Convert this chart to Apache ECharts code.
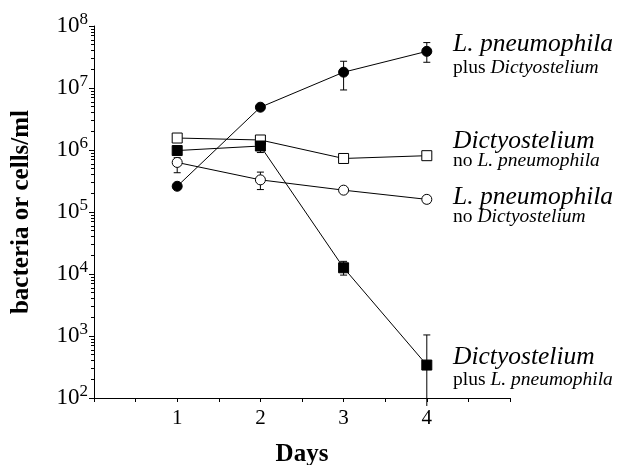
<!DOCTYPE html>
<html>
<head>
<meta charset="utf-8">
<script src="https://cdn.jsdelivr.net/npm/echarts@6/dist/echarts.min.js"></script>
<style>
  html, body { margin: 0; padding: 0; background: #fff; }
  #chart { width: 617px; height: 465px; }
</style>
</head>
<body>
<div id="chart"></div>
<script>
// days after infection
const days = [1, 2, 3, 4]
const xTickLabels = ['1', '2', '3', '4']

// bacteria or cells per ml
const lpPlusDicty = [2.6e5, 4.9e6, 1.8e7, 3.9e7]
const dictyNoLp = [1.56e6, 1.45e6, 7.3e5, 8.1e5]
const lpNoDicty = [6.3e5, 3.3e5, 2.25e5, 1.6e5]
const dictyPlusLp = [9.8e5, 1.16e6, 1.26e4, 340]

// error bars (low / high), null = not visible
const lpPlusDictyLow = [null, null, 9.3e6, 2.6e7]
const lpPlusDictyHigh = [null, null, 2.7e7, 5.4e7]
const dictyNoLpLow = [null, 1.3e6, null, null]
const dictyNoLpHigh = [null, 1.6e6, null, null]
const lpNoDictyLow = [4.3e5, 2.3e5, null, 1.4e5]
const lpNoDictyHigh = [7.5e5, 4.4e5, null, 1.8e5]
const dictyPlusLpLow = [8.5e5, 9.1e5, 9.6e3, 100]
const dictyPlusLpHigh = [1.1e6, 1.6e6, 1.6e4, 1040]

// right side labels: [big italic line, small line (rich)]
const labelTexts = [
  ['L. pneumophila', '{r|plus }{i|Dictyostelium}'],
  ['Dictyostelium', '{r|no }{i|L. pneumophila}'],
  ['L. pneumophila', '{r|no }{i|Dictyostelium}'],
  ['Dictyostelium', '{r|plus }{i|L. pneumophila}']
]

const FONT = '"Liberation Serif", "DejaVu Serif", serif'
const Y_MIN = 100

const chart = echarts.init(document.getElementById('chart'))

function lineSeries(vals, symbol, filled) {
  return {
    type: 'line',
    data: days.map((d, i) => [d, vals[i]]),
    symbol: symbol,
    symbolSize: 10,
    showSymbol: true,
    z: 3,
    lineStyle: { color: '#000', width: 1 },
    itemStyle: {
      color: filled ? '#000' : '#fff',
      borderColor: '#000',
      borderWidth: 1
    },
    emphasis: { disabled: true },
    animation: false
  }
}

function errorSeries(lows, highs) {
  const data = []
  days.forEach((d, i) => {
    if (lows[i] != null) data.push([d, lows[i], highs[i]])
  })
  return {
    type: 'custom',
    data: data,
    z: 2,
    animation: false,
    encode: { x: 0, y: [1, 2] },
    renderItem(params, api) {
      const x = api.value(0)
      const lo = api.value(1)
      const top = api.coord([x, api.value(2)])
      const bot = api.coord([x, lo])
      const w = 3.5
      const st = { stroke: '#000', lineWidth: 1 }
      const children = [
        { type: 'line', shape: { x1: top[0], y1: top[1], x2: bot[0], y2: bot[1] + (lo > Y_MIN ? 0 : 8) }, style: st },
        { type: 'line', shape: { x1: top[0] - w, y1: top[1], x2: top[0] + w, y2: top[1] }, style: st }
      ]
      if (lo > Y_MIN) {
        children.push({ type: 'line', shape: { x1: bot[0] - w, y1: bot[1], x2: bot[0] + w, y2: bot[1] }, style: st })
      }
      return { type: 'group', children: children }
    }
  }
}

const labelY = [[44, 68], [141, 161], [197, 217], [357, 380]]
const graphics = []
labelTexts.forEach((t, k) => {
  graphics.push({
    type: 'text', x: 453, y: labelY[k][0],
    style: {
      text: t[0], fill: '#000', verticalAlign: 'middle',
      font: 'italic 25.5px ' + FONT
    }
  })
  graphics.push({
    type: 'text', x: 453, y: labelY[k][1],
    style: {
      text: t[1], fill: '#000', verticalAlign: 'middle',
      rich: {
        r: { fontSize: 19.5, fontFamily: FONT, fill: '#000' },
        i: { fontSize: 19.5, fontFamily: FONT, fontStyle: 'italic', fill: '#000' }
      }
    }
  })
})

chart.setOption({
  animation: false,
  grid: { left: 94, right: 107, top: 26, bottom: 67, containLabel: false, outerBoundsMode: 'none' },
  xAxis: {
    type: 'value',
    min: 0,
    max: 5,
    interval: 1,
    name: 'Days',
    nameLocation: 'middle',
    nameGap: 44,
    nameTextStyle: { fontFamily: FONT, fontSize: 25, fontWeight: 'bold', color: '#000' },
    axisLine: { lineStyle: { color: '#000', width: 1 } },
    axisTick: { show: true, length: 4, lineStyle: { color: '#000' } },
    minorTick: { show: true, splitNumber: 2, length: 4, lineStyle: { color: '#000' } },
    splitLine: { show: false },
    axisLabel: {
      margin: 10,
      fontFamily: FONT,
      fontSize: 21,
      color: '#000',
      formatter: v => (v >= 1 && v <= 4 ? xTickLabels[v - 1] : '')
    }
  },
  yAxis: {
    type: 'log',
    logBase: 10,
    min: Y_MIN,
    max: 1e8,
    name: 'bacteria or cells/ml',
    nameLocation: 'middle',
    nameGap: 60,
    nameTextStyle: { fontFamily: FONT, fontSize: 25, fontWeight: 'bold', color: '#000' },
    axisLine: { show: true, lineStyle: { color: '#000', width: 1 } },
    axisTick: { show: true, length: 5, lineStyle: { color: '#000' } },
    minorTick: { show: true, splitNumber: 9, length: 3, lineStyle: { color: '#000' } },
    splitLine: { show: false },
    axisLabel: {
      margin: 6,
      color: '#000',
      formatter: v => '{b|10}{e|' + Math.round(Math.log10(v)) + '}',
      rich: {
        b: { fontFamily: FONT, fontSize: 23, color: '#000' },
        e: { fontFamily: FONT, fontSize: 17, color: '#000', padding: [0, 0, 12, 0] }
      }
    }
  },
  series: [
    errorSeries(lpPlusDictyLow, lpPlusDictyHigh),
    errorSeries(dictyNoLpLow, dictyNoLpHigh),
    errorSeries(lpNoDictyLow, lpNoDictyHigh),
    errorSeries(dictyPlusLpLow, dictyPlusLpHigh),
    lineSeries(lpPlusDicty, 'circle', true),
    lineSeries(dictyNoLp, 'rect', false),
    lineSeries(lpNoDicty, 'circle', false),
    lineSeries(dictyPlusLp, 'rect', true)
  ],
  graphic: graphics
})
</script>
</body>
</html>
